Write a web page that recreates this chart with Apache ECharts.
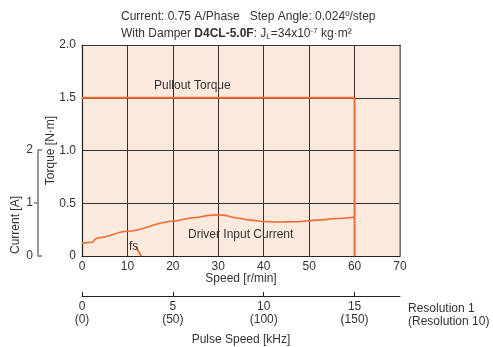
<!DOCTYPE html>
<html><head><meta charset="utf-8">
<script src="https://cdn.jsdelivr.net/npm/echarts@6/dist/echarts.min.js"></script>
<style>html,body{margin:0;padding:0;background:#fff}#c{width:493px;height:347px}</style>
</head><body><div id="c"></div>
<script>
// ---- data ----
const speedTicks = [0, 10, 20, 30, 40, 50, 60, 70];
const torqueTicks = [0, 0.5, 1.0, 1.5, 2.0];
const currentTicks = [0, 1, 2];
const pulseTicks = [0, 5, 10, 15];
const pulseTicksRes10 = [0, 50, 100, 150];
// Pullout torque [N·m] vs speed [r/min]
const pulloutSpeed  = [0, 60, 60];
const pulloutTorque = [1.5, 1.5, 0];
// Driver input current [A] vs speed [r/min]
const currentSpeed = [0, 2.2, 3.0, 3.6, 10, 20, 25, 28, 29.5, 31, 34, 37, 40, 43, 47, 52, 56, 60];
const currentAmps  = [0.24, 0.26, 0.32, 0.345, 0.47, 0.66, 0.73, 0.77, 0.78, 0.775, 0.72, 0.68, 0.655, 0.645, 0.65, 0.68, 0.71, 0.74];
// fs (starting pulse rate) marker
const fsSpeed  = [11.9, 13.0];
const fsTorque = [0.085, 0];

const orange = '#f26a2e';
const txt = '#333';
const font = 'Liberation Sans, Arial, sans-serif';
const zip = (a, b) => a.map((v, i) => [v, b[i]]);
const plain = {fontSize: 12, fontWeight: 'normal', color: txt, fontFamily: font};

const chart = echarts.init(document.getElementById('c'));
chart.setOption({
  animation: false,
  textStyle: {fontFamily: font, color: txt},
  title: [
    {text: 'Current: 0.75 A/Phase   Step Angle: 0.024º/step', left: 116, top: 6, textStyle: plain},
    {text: '{n|With Damper }{b|D4CL-5.0F}{n|: J}{s|L}{n|=34x10}{p|-7}{n| kg·m²}', left: 116, top: 22,
     textStyle: {fontWeight: 'normal', rich: {
       n: {fontSize: 12, color: txt, fontWeight: 'normal', fontFamily: font},
       b: {fontSize: 12, color: txt, fontWeight: 'bold', fontFamily: font},
       s: {fontSize: 8, color: txt, fontWeight: 'normal', fontFamily: font, verticalAlign: 'bottom', padding: [4, 0, 0, 0]},
       p: {fontSize: 8, color: txt, fontWeight: 'normal', fontFamily: font, verticalAlign: 'top', padding: [0, 0, 6, 0]}
     }}},
    {text: 'Resolution 1\n(Resolution 10)', left: 403, top: 297, textStyle: Object.assign({lineHeight: 13}, plain)},
    {text: 'Pullout Torque', left: 149, top: 75, textStyle: plain},
    {text: 'Driver Input Current', left: 183, top: 224, textStyle: plain},
    {text: 'fs', left: 124, top: 236, textStyle: plain}
  ],
  grid: [
    {left: 82, top: 45, width: 318, height: 211, show: true, backgroundColor: '#fdeadf', borderWidth: 0},
    {left: 38, top: 150, width: 1, height: 106},
    {left: 82, top: 286, width: 318, height: 10}
  ],
  xAxis: [
    {gridIndex: 0, type: 'value', min: speedTicks[0], max: speedTicks[speedTicks.length - 1], interval: 10,
     name: 'Speed [r/min]', nameLocation: 'middle', nameGap: 17, nameMoveOverlap: false,
     nameTextStyle: {fontSize: 12, color: txt},
     axisLine: {lineStyle: {color: '#222', width: 1.2}}, axisTick: {show: false},
     axisLabel: {fontSize: 12, color: txt, margin: 5},
     splitLine: {show: true, lineStyle: {color: '#333', width: 1}}},
    {gridIndex: 0, type: 'value', position: 'top', min: 0, max: 70, show: true,
     axisLine: {show: true, onZero: false, lineStyle: {color: '#333', width: 1.2}},
     axisTick: {show: false}, axisLabel: {show: false}, splitLine: {show: false}},
    {gridIndex: 1, type: 'value', show: false, min: 0, max: 1},
    {gridIndex: 2, type: 'value', min: 0, max: 17.5, interval: 5,
     name: 'Pulse Speed [kHz]', nameLocation: 'middle', nameGap: 38, nameMoveOverlap: false,
     nameTextStyle: {fontSize: 12, color: txt},
     axisLine: {lineStyle: {color: '#222', width: 1}},
     axisTick: {inside: true, length: 4, lineStyle: {color: '#222'}, customValues: pulseTicks},
     axisLabel: {fontSize: 12, color: txt, margin: 4, lineHeight: 13, customValues: pulseTicks,
       formatter: v => v + '\n(' + pulseTicksRes10[pulseTicks.indexOf(v)] + ')'},
     splitLine: {show: false}}
  ],
  yAxis: [
    {gridIndex: 0, type: 'value', min: torqueTicks[0], max: torqueTicks[torqueTicks.length - 1], interval: 0.5,
     name: 'Torque [N·m]', nameLocation: 'middle', nameGap: 25, nameMoveOverlap: false,
     nameTextStyle: {fontSize: 12, color: txt},
     axisLine: {lineStyle: {color: '#222', width: 1.2}}, axisTick: {show: false},
     axisLabel: {fontSize: 12, color: txt, margin: 6, formatter: v => v === 0 ? '0' : v.toFixed(1)},
     splitLine: {show: true, lineStyle: {color: '#333', width: 1}}},
    {gridIndex: 0, type: 'value', min: 0, max: 4, show: false},
    {gridIndex: 1, type: 'value', min: currentTicks[0], max: currentTicks[currentTicks.length - 1], interval: 1,
     name: 'Current [A]', nameLocation: 'middle', nameGap: 16, nameMoveOverlap: false,
     nameTextStyle: {fontSize: 12, color: txt, padding: [0, 44, 0, 0]},
     axisLine: {lineStyle: {color: '#777', width: 1.5}},
     axisTick: {show: true, inside: false, length: 4, lineStyle: {color: '#777', width: 1.5}, customValues: [1]},
     axisLabel: {fontSize: 12, color: txt, margin: 5}, splitLine: {show: false}},
    {gridIndex: 1, type: 'value', min: 0, max: 2, interval: 2, position: 'left',
     axisLine: {show: false},
     axisTick: {show: true, inside: true, length: 4, lineStyle: {color: '#777', width: 1.5}, customValues: [0, 2]},
     axisLabel: {show: false}, splitLine: {show: false}},
    {gridIndex: 2, type: 'value', show: false, min: 0, max: 1},
    {gridIndex: 0, type: 'value', position: 'right', min: 0, max: 2, show: true,
     axisLine: {show: true, onZero: false, lineStyle: {color: '#888', width: 1.5}},
     axisTick: {show: false}, axisLabel: {show: false}, splitLine: {show: false}}
  ],
  series: [
    {type: 'line', xAxisIndex: 0, yAxisIndex: 0, data: zip(pulloutSpeed, pulloutTorque),
     showSymbol: false, lineStyle: {color: orange, width: 2}, z: 5},
    {type: 'line', xAxisIndex: 0, yAxisIndex: 1, data: zip(currentSpeed, currentAmps),
     smooth: 0.35, smoothMonotone: 'x', showSymbol: false, lineStyle: {color: orange, width: 1.6}, z: 5},
    {type: 'line', xAxisIndex: 0, yAxisIndex: 0, data: zip(fsSpeed, fsTorque),
     showSymbol: false, lineStyle: {color: orange, width: 1.8}, z: 5}
  ]
});
</script></body></html>
